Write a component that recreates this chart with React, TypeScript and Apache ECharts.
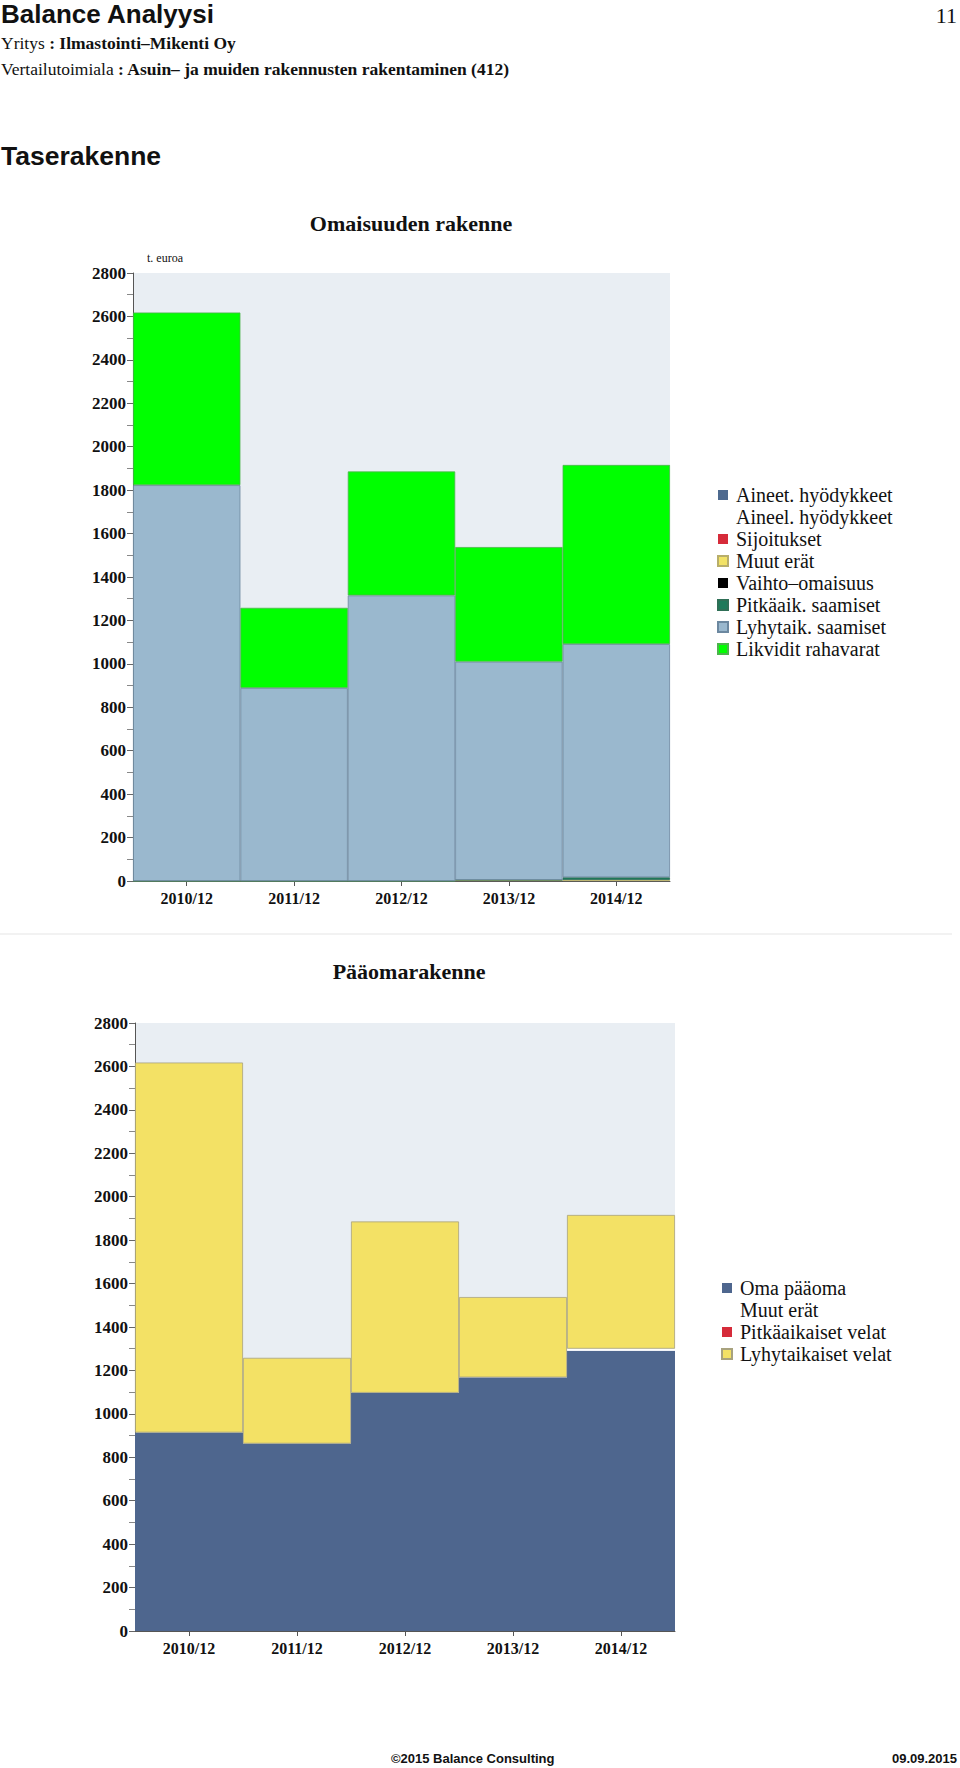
import React, { useEffect, useRef } from "react";
import * as echarts from "echarts";

const categories = ["2010/12", "2011/12", "2012/12", "2013/12", "2014/12"];
const yTicksMax = 2800;
const yInterval = 200;

// Omaisuuden rakenne (t. euroa)
const aineetHyodykkeet = [0, 0, 0, 0, 0];
const aineelHyodykkeet = [0, 0, 0, 0, 0];
const sijoitukset = [0, 0, 0, 0, 0];
const muutEratVarat = [0, 0, 0, 5, 5];
const vaihtoOmaisuus = [0, 0, 0, 0, 0];
const pitkaaikSaamiset = [0, 0, 0, 0, 12];
const lyhytaikSaamiset = [1823, 889, 1315, 1005, 1074];
const likviditRahavarat = [795, 369, 571, 528, 825];

// Pääomarakenne
const omaPaaoma = [914, 863, 1097, 1168, 1291];
const muutEratPaaoma = [0, 0, 0, 0, 9];
const pitkaaikVelat = [0, 0, 0, 0, 0];
const lyhytaikVelat = [1704, 395, 789, 370, 616];

const SERIF = "'Liberation Serif', 'Times New Roman', serif";
const SANS = "'Liberation Sans', Arial, sans-serif";

type S = { name: string; data: number[]; color: string; border?: string };

const assetSeries: S[] = [
  { name: "Aineet. hyödykkeet", data: aineetHyodykkeet, color: "#4E6A8F" },
  { name: "Aineel. hyödykkeet", data: aineelHyodykkeet, color: "#FFFFFF" },
  { name: "Sijoitukset", data: sijoitukset, color: "#D62B3A" },
  { name: "Muut erät", data: muutEratVarat, color: "#F2E266", border: "#B8AE6A" },
  { name: "Vaihto–omaisuus", data: vaihtoOmaisuus, color: "#000000" },
  { name: "Pitkäaik. saamiset", data: pitkaaikSaamiset, color: "#1E7A5A", border: "#2F6F56" },
  { name: "Lyhytaik. saamiset", data: lyhytaikSaamiset, color: "#9AB8CE", border: "#6C88A0" },
  { name: "Likvidit rahavarat", data: likviditRahavarat, color: "#00FF00", border: "#4CB44C" },
];

const capitalSeries: S[] = [
  { name: "Oma pääoma", data: omaPaaoma, color: "#4E668E" },
  { name: "Muut erät ", data: muutEratPaaoma, color: "#FFFFFF" },
  { name: "Pitkäaikaiset velat", data: pitkaaikVelat, color: "#D62B3A" },
  { name: "Lyhytaikaiset velat", data: lyhytaikVelat, color: "#F3E165", border: "#A8A27E" },
];

export default function App() {
  const ref = useRef<HTMLDivElement>(null);
  useEffect(() => {
    if (!ref.current) return;
    const chart = echarts.init(ref.current, undefined, { renderer: "svg" });

    const mkSeries = (list: S[], axisIndex: number, stack: string) =>
      list.map((s) => ({
        type: "bar",
        name: s.name,
        stack,
        xAxisIndex: axisIndex,
        yAxisIndex: axisIndex,
        barCategoryGap: "0%",
        data: s.data,
        itemStyle: {
          color: s.color,
          borderColor: s.border || s.color,
          borderWidth: s.border ? 0.8 : 0,
        },
      }));

    const yAxisBase = (gridIndex: number) => ({
      type: "value",
      gridIndex,
      min: 0,
      max: yTicksMax,
      interval: yInterval,
      axisLine: { show: true, lineStyle: { color: "#555", width: 1 } },
      axisTick: { show: true, length: 6, lineStyle: { color: "#666" } },
      minorTick: { show: true, splitNumber: 2, length: 6, lineStyle: { color: "#888" } },
      splitLine: { show: false },
      axisLabel: {
        margin: 7,
        fontFamily: SERIF,
        fontWeight: "bold",
        fontSize: 17,
        color: "#111",
        formatter: (v: number) => String(v),
      },
    });

    const xAxisBase = (gridIndex: number) => ({
      type: "category",
      gridIndex,
      data: categories,
      axisLine: { show: true, lineStyle: { color: "#555", width: 1 } },
      axisTick: { show: true, alignWithLabel: true, length: 5, lineStyle: { color: "#555" } },
      axisLabel: {
        margin: 9,
        fontFamily: SERIF,
        fontWeight: "bold",
        fontSize: 16,
        color: "#111",
      },
    });

    const legendBase = {
      orient: "vertical",
      icon: "rect",
      itemWidth: 10,
      itemHeight: 10,
      itemGap: 0,
      selectedMode: false,
      textStyle: {
        fontFamily: SERIF,
        fontSize: 20,
        lineHeight: 22,
        color: "#111",
        padding: [0, 0, 0, 3],
      },
    };

    chart.setOption({
      animation: false,
      backgroundColor: "#FFFFFF",
      title: [
        {
          text: "Omaisuuden rakenne",
          left: 406,
          top: 207,
          textAlign: "center",
          textStyle: { fontFamily: SERIF, fontWeight: "bold", fontSize: 22, color: "#111" },
        },
        {
          text: "Pääomarakenne",
          left: 404,
          top: 955,
          textAlign: "center",
          textStyle: { fontFamily: SERIF, fontWeight: "bold", fontSize: 22, color: "#111" },
        },
      ],
      grid: [
        { left: 133, top: 273, width: 537, height: 608, show: true, backgroundColor: "#E9EEF3", borderWidth: 0 },
        { left: 135, top: 1023, width: 540, height: 608, show: true, backgroundColor: "#E9EEF3", borderWidth: 0 },
      ],
      xAxis: [xAxisBase(0), xAxisBase(1)],
      yAxis: [yAxisBase(0), yAxisBase(1)],
      legend: [
        { ...legendBase, left: 712, top: 479, data: assetSeries.map((s) => s.name) },
        { ...legendBase, left: 716, top: 1272, data: capitalSeries.map((s) => s.name) },
      ],
      series: [...mkSeries(assetSeries, 0, "assets"), ...mkSeries(capitalSeries, 1, "capital")],
      graphic: [
        {
          type: "text",
          left: 1,
          top: 1,
          style: { text: "Balance Analyysi", font: `bold 26px ${SANS}`, fill: "#111" },
        },
        {
          type: "text",
          right: 3,
          top: 4,
          style: { text: "11", font: `22px ${SERIF}`, fill: "#111" },
        },
        {
          type: "text",
          left: 1,
          top: 34,
          style: {
            text: "{r|Yritys }{b|: Ilmastointi–Mikenti Oy}",
            rich: {
              r: { font: `17.5px ${SERIF}`, fill: "#111" },
              b: { font: `bold 17.5px ${SERIF}`, fill: "#111" },
            },
          },
        },
        {
          type: "text",
          left: 1,
          top: 60,
          style: {
            text: "{r|Vertailutoimiala }{b|: Asuin– ja muiden rakennusten rakentaminen (412)}",
            rich: {
              r: { font: `17.5px ${SERIF}`, fill: "#111" },
              b: { font: `bold 17.5px ${SERIF}`, fill: "#111" },
            },
          },
        },
        {
          type: "text",
          left: 1,
          top: 142,
          style: { text: "Taserakenne", font: `bold 26.5px ${SANS}`, fill: "#111" },
        },
        {
          type: "text",
          left: 147,
          top: 252,
          style: { text: "t. euroa", font: `12px ${SERIF}`, fill: "#111" },
        },
        {
          type: "line",
          shape: { x1: 0, y1: 934, x2: 952, y2: 934 },
          style: { stroke: "#EEEEEE", lineWidth: 1.5 },
        },
        {
          type: "text",
          left: 391,
          top: 1752,
          style: { text: "©2015 Balance Consulting", font: `bold 13px ${SANS}`, fill: "#111" },
        },
        {
          type: "text",
          right: 3,
          top: 1752,
          style: { text: "09.09.2015", font: `bold 13px ${SANS}`, fill: "#111" },
        },
      ],
    });
    return () => chart.dispose();
  }, []);

  return (
    <div
      ref={ref}
      style={{ position: "absolute", left: 0, top: 0, width: 960, height: 1768, background: "#fff" }}
    />
  );
}
